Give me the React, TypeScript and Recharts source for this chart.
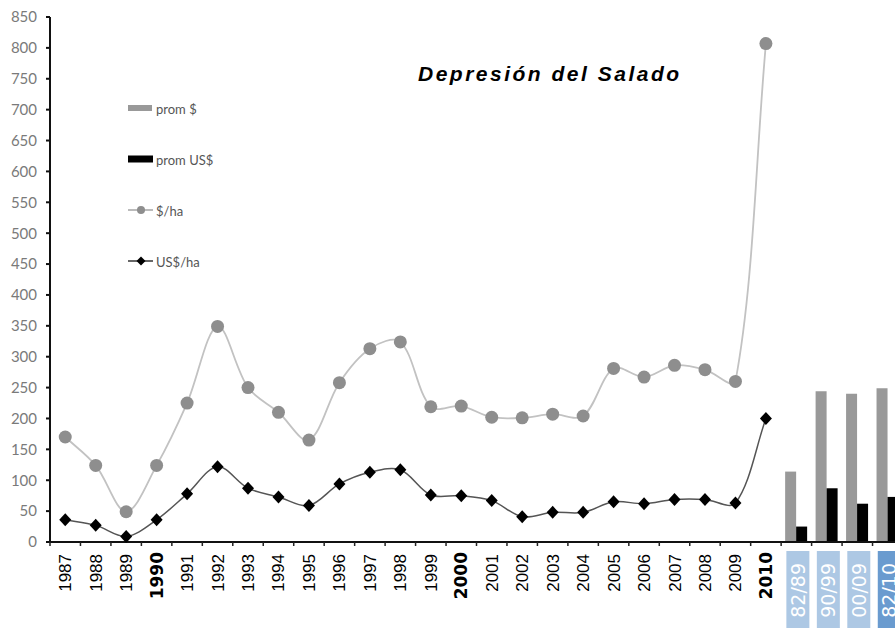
import React from 'react';
import { ComposedChart, Bar, Line, XAxis, YAxis, Legend } from 'recharts';

// ---- data ----
const years = ['1987','1988','1989','1990','1991','1992','1993','1994','1995','1996','1997','1998','1999','2000','2001','2002','2003','2004','2005','2006','2007','2008','2009','2010'];
const periods = ['82/89','90/99','00/09','82/10'];
const boldYears = ['1990','2000','2010'];
const pesosHa = [170,124,49,124,225,349,250,210,165,258,313,324,219,220,202,201,207,204,281,267,286,279,260,807];
const usdHa = [36,27,9,36,78,122,87,73,59,94,113,117,76,75,67,41,48,48,65,62,69,69,63,200];
const promPesos = [114,244,240,249];
const promUsd = [25,87,62,73];
const yTicks = [0,50,100,150,200,250,300,350,400,450,500,550,600,650,700,750,800,850];
const title = 'Depresión del Salado';
const seriesNames = { promPesos: 'prom $', promUsd: 'prom US$', pesosHa: '$/ha', usdHa: 'US$/ha' };

const categories = [...years, ...periods];
const data = categories.map((c, i) => {
  const isYear = i < years.length;
  return {
    cat: c,
    pesosHa: isYear ? pesosHa[i] : null,
    usdHa: isYear ? usdHa[i] : null,
    promPesos: isYear ? null : promPesos[i - years.length],
    promUsd: isYear ? null : promUsd[i - years.length],
  };
});

// Excel-like smoothing curve (Bezier with control points scaled by segment lengths)
const excelCurve: any = (context: any) => {
  let pts: number[][] = [];
  return {
    areaStart() {},
    areaEnd() {},
    lineStart() { pts = []; },
    point(x: number, y: number) { pts.push([+x, +y]); },
    lineEnd() {
      if (!pts.length) return;
      const d = (a: number[], b: number[]) => Math.hypot(b[0] - a[0], b[1] - a[1]);
      context.moveTo(pts[0][0], pts[0][1]);
      if (pts.length === 1) return;
      for (let i = 0; i < pts.length - 1; i++) {
        const p0 = pts[i - 1] || pts[i];
        const p1 = pts[i];
        const p2 = pts[i + 1];
        const p3 = pts[i + 2] || p2;
        const d01 = d(p0, p1), d12 = d(p1, p2), d23 = d(p2, p3);
        const f1 = d12 / (d01 + d12 || 1) / 3;
        const f2 = d12 / (d12 + d23 || 1) / 3;
        context.bezierCurveTo(
          p1[0] + (p2[0] - p0[0]) * f1, p1[1] + (p2[1] - p0[1]) * f1,
          p2[0] - (p3[0] - p1[0]) * f2, p2[1] - (p3[1] - p1[1]) * f2,
          p2[0], p2[1]
        );
      }
    },
  };
};

const GRAY_BAR = '#999999';
const GRAY_LINE = '#c2c2c2';
const GRAY_DOT = '#8e8e8e';
const BOX = '#adc8e4';
const BOX_DARK = '#6a9bcf';

const XTick = (props: any) => {
  const { x, y, payload, index } = props;
  const half = payload && payload.offset ? payload.offset : 15.23;
  const label = String(payload.value);
  const isPeriod = periods.includes(label);
  const isBold = boldYears.includes(label);
  const last = index === categories.length - 1;
  return (
    <g>
      <line x1={x - half} x2={x - half} y1={y} y2={y + 4} stroke="#222" strokeWidth={1.5} />
      {last && <line x1={x + half} x2={x + half} y1={y} y2={y + 4} stroke="#222" strokeWidth={1.5} />}
      {isPeriod ? (
        <g>
          <rect x={x - 10} y={y + 9} width={23} height={90} fill={label === '82/10' ? BOX_DARK : BOX} />
          <text transform={`translate(${x + 8.5},${y + 21}) rotate(-90)`} textAnchor="end" fill="#ffffff"
            fontFamily="DejaVu Sans" fontSize={19}>{label}</text>
        </g>
      ) : isBold ? (
        <text transform={`translate(${x + 6},${y + 10}) rotate(-90)`} textAnchor="end" fill="#000"
          fontFamily="DejaVu Sans" fontWeight="bold" fontSize={17}>{label}</text>
      ) : (
        <text transform={`translate(${x + 6},${y + 12}) rotate(-90)`} textAnchor="end" fill="#000"
          fontFamily="Liberation Sans" fontSize={17}>{label}</text>
      )}
    </g>
  );
};

const CircleDot = (props: any) => {
  const { cx, cy, index } = props;
  if (cx == null || cy == null || isNaN(cy)) return <g key={`c-${index}`} />;
  return <circle key={`c-${index}`} cx={cx} cy={cy} r={6.5} fill={GRAY_DOT} />;
};

const DiamondDot = (props: any) => {
  const { cx, cy, index } = props;
  if (cx == null || cy == null || isNaN(cy)) return <g key={`m-${index}`} />;
  return <path key={`m-${index}`} d={`M${cx},${cy - 6.5}L${cx + 6},${cy}L${cx},${cy + 6.5}L${cx - 6},${cy}Z`} fill="#000" />;
};

const legendOrder = ['promPesos', 'promUsd', 'pesosHa', 'usdHa'] as const;

const Swatch = ({ k }: { k: string }) => {
  if (k === 'promPesos') return <svg width={28} height={14}><rect x={0} y={4} width={24} height={6} fill={GRAY_BAR} /></svg>;
  if (k === 'promUsd') return <svg width={28} height={14}><rect x={0} y={3.5} width={25} height={7} fill="#000" /></svg>;
  if (k === 'pesosHa') return <svg width={28} height={14}><line x1={0} x2={25} y1={7} y2={7} stroke={GRAY_DOT} strokeWidth={1.2} /><circle cx={13} cy={7} r={4} fill={GRAY_DOT} /></svg>;
  return <svg width={28} height={14}><line x1={0} x2={25} y1={7} y2={7} stroke="#000" strokeWidth={1.2} /><path d="M13,2.5L17.5,7L13,11.5L8.5,7Z" fill="#000" /></svg>;
};

const LegendContent = () => (
  <div style={{ fontFamily: 'Lato', fontSize: 13, color: '#555' }}>
    {legendOrder.map((k) => (
      <div key={k} style={{ height: 51, display: 'flex', alignItems: 'center' }}>
        <Swatch k={k} />
        <span style={{ marginTop: 3 }}>{(seriesNames as any)[k]}</span>
      </div>
    ))}
  </div>
);

export default function App() {
  return (
    <div style={{ position: 'absolute', left: 8, top: 8, width: 887, height: 620, overflow: 'hidden' }}>
      <div style={{ position: 'absolute', left: 410, top: 55, fontFamily: 'Liberation Sans', fontWeight: 'bold', fontStyle: 'italic', fontSize: 21, letterSpacing: 2.5, lineHeight: '21px', color: '#000', whiteSpace: 'nowrap', zIndex: 2 }}>
        {title}
      </div>
      <ComposedChart width={900} height={620} data={data} margin={{ top: 9, right: 5, left: 0, bottom: 0 }} barGap={0}>
        <XAxis dataKey="cat" interval={0} height={86} tickSize={0} tickMargin={0} tickLine={false}
          axisLine={{ stroke: '#111', strokeWidth: 2 }} tick={<XTick />} />
        <YAxis width={42} domain={[0, 850]} ticks={yTicks} interval={0} tickSize={4} tickMargin={9}
          axisLine={{ stroke: '#111', strokeWidth: 2 }} tickLine={{ stroke: '#111', strokeWidth: 2 }}
          tick={{ fill: '#7a7a7a', fontFamily: 'Lato', fontSize: 15 }} />
        <Legend layout="vertical" align="center" verticalAlign="middle" content={<LegendContent />}
          wrapperStyle={{ left: 120, top: 74, width: 160 }} />
        <Bar dataKey="promPesos" name={seriesNames.promPesos} fill={GRAY_BAR} barSize={11} isAnimationActive={false} />
        <Bar dataKey="promUsd" name={seriesNames.promUsd} fill="#000" barSize={11} isAnimationActive={false} />
        <Line dataKey="pesosHa" name={seriesNames.pesosHa} type={excelCurve} stroke={GRAY_LINE} strokeWidth={1.8}
          dot={CircleDot} activeDot={false} isAnimationActive={false} />
        <Line dataKey="usdHa" name={seriesNames.usdHa} type={excelCurve} stroke="#555" strokeWidth={1.5}
          dot={DiamondDot} activeDot={false} isAnimationActive={false} />
      </ComposedChart>
    </div>
  );
}
